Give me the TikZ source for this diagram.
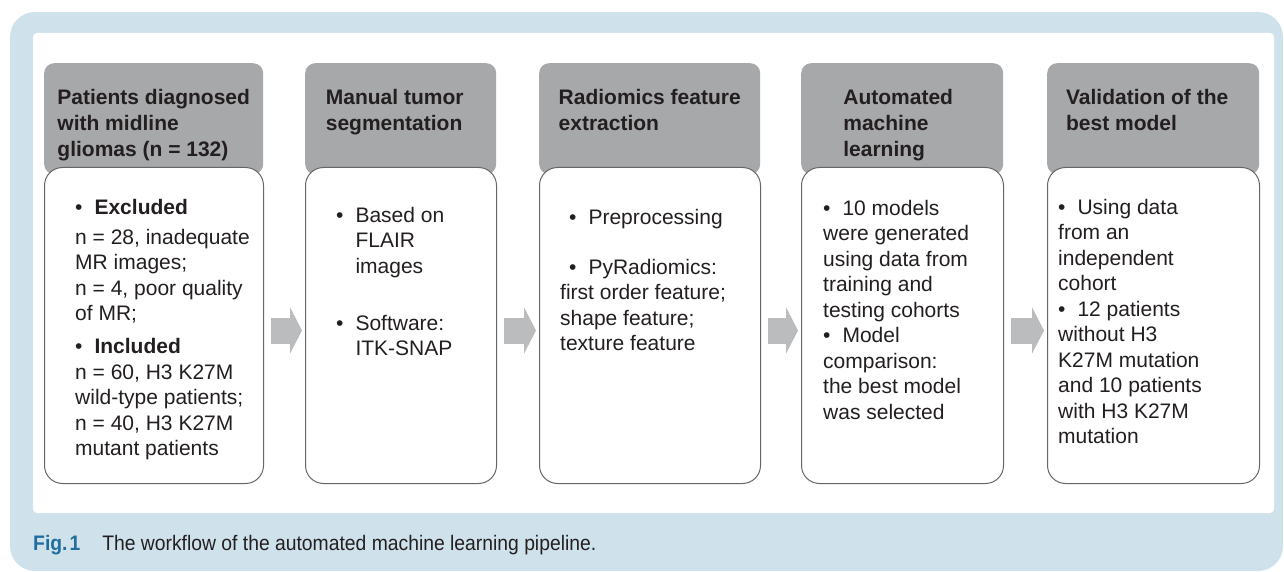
\documentclass[tikz,border=0pt]{standalone}
\usepackage{fontspec}
\setmainfont{Liberation Sans}
\newfontfamily\capfont[FakeStretch=0.92]{Liberation Sans}
\usetikzlibrary{arrows.meta,calc}
\definecolor{panelblue}{HTML}{CFE1EB}
\definecolor{headgray}{HTML}{A7A8AA}
\definecolor{arrowgray}{HTML}{BBBCBE}
\definecolor{figblue}{HTML}{1E6E9E}
\definecolor{inkgray}{HTML}{231F20}
\newcommand{\itm}{\textbullet\hspace{12pt}}
\tikzset{head/.style={fill=headgray,rounded corners=10pt,minimum height=111pt,
        inner sep=0pt,anchor=north west},
    body/.style={draw=black!60,line width=1pt,fill=white,rounded corners=18pt,
        minimum height=316pt,inner sep=0pt,anchor=north west},
    headtext/.style={font=\bfseries\fontsize{21}{26}\selectfont,text=inkgray,
        align=left,inner sep=0pt,anchor=north},
    bodytext/.style={font=\fontsize{21}{25.5}\selectfont,text=inkgray,
        align=left,inner sep=0pt,anchor=north west},
    flow/.style={arrowgray,line width=26pt,-{Triangle[length=12pt,width=46pt]}}}

\begin{document}
\begin{tikzpicture}[x=1pt,y=-1pt]
\useasboundingbox (0,0) rectangle (1284,572);
% panel
\fill[panelblue,rounded corners=25pt] (10,12) rectangle (1283,571);
\fill[white,rounded corners=4pt] (33,33) rectangle (1274,513);

% boxes
\foreach \i/\x/\w in {1/44/219pt,2/305/191pt,3/539/221pt,4/801/202pt,5/1047/212pt}{
    \node[head,minimum width=\w] (h\i) at (\x,63) {};
    \node[body,minimum width=\w] (b\i) at (\x,167) {};
}
\foreach \a/\b in {1/2,2/3,3/4,4/5}
    \draw[flow] ($(b\a.east)+(7,5)$) -- ($(b\b.west)+(-3,5)$);

\node[headtext] (t1) at ($(h1.north)+(0,26)$) {Patients diagnosed\\with midline\\gliomas (n = 132)};
\node[headtext] (t2) at ($(h2.north)+(-6,26)$) {Manual tumor\\segmentation};
\node[headtext] (t3) at ($(h3.north)+(0,26)$) {Radiomics feature\\extraction};
\node[headtext] (t4) at ($(h4.north)+(-4,26)$) {Automated\\machine\\learning};
\node[headtext] (t5) at ($(h5.north)+(-6,26)$) {Validation of the\\best model};

\node[bodytext] (d1) at ($(b1.north west)+(31,32)$) {\itm\textbf{Excluded}\\[4.5pt]
    n = 28, inadequate\\MR images;\\n = 4, poor quality\\of MR;\\[7.5pt]
    \itm\textbf{Included}\\n = 60, H3 K27M\\wild-type patients;\\
    n = 40, H3 K27M\\mutant patients};
\node[bodytext] (d2) at ($(b2.north west)+(31,40)$) {\itm Based on\\
    \hspace*{19.3pt}FLAIR\\\hspace*{19.3pt}images\\[31.5pt]
    \itm Software:\\\hspace*{19.3pt}ITK-SNAP};
\node[bodytext] (d3) at ($(b3.north west)+(21,42)$) {\hspace*{9pt}\itm Preprocessing\\[24.5pt]
    \hspace*{9pt}\itm PyRadiomics:\\first order feature;\\shape feature;\\texture feature};
\node[bodytext] (d4) at ($(b4.north west)+(22,33)$) {\itm 10 models\\were generated\\
    using data from\\training and\\testing cohorts\\\itm Model\\comparison:\\
    the best model\\was selected};
\node[bodytext] (d5) at ($(b5.north west)+(11,32)$) {\itm Using data\\from an\\
    independent\\cohort\\\itm 12 patients\\without H3\\K27M mutation\\
    and 10 patients\\with H3 K27M\\mutation};

% caption
\node[anchor=west,inner sep=0pt,text=inkgray,font=\capfont\fontsize{21}{25}\selectfont]
    (cap) at (33,545) {\textcolor{figblue}{\bfseries Fig.\hspace{2pt}1}\hspace{22pt}The workflow
    of the automated machine learning pipeline.};
\end{tikzpicture}
\end{document}
